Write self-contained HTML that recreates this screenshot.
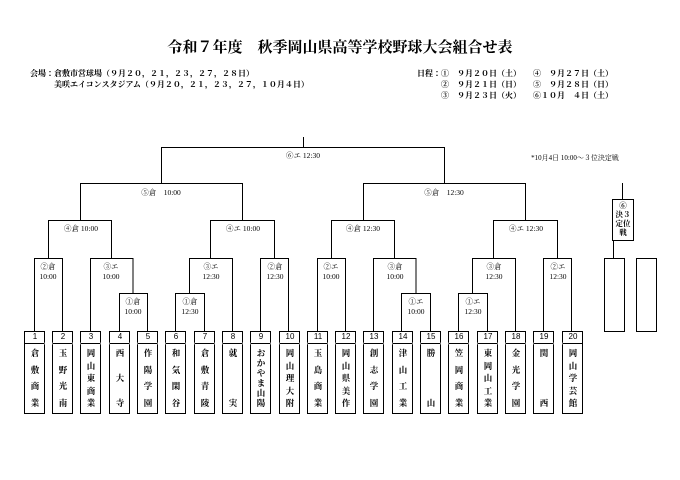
<!DOCTYPE html>
<html><head><meta charset="utf-8"><style>
body{margin:0;background:#fff;}
#p{position:relative;width:680px;height:480px;overflow:hidden;font-family:"Liberation Serif","Noto Serif CJK JP",serif;color:#000;}
.t{position:absolute;white-space:nowrap;font-size:7.5px;line-height:10px;transform:translateX(-50%);text-align:center;}
.n{position:absolute;top:331px;width:20px;height:12px;font-size:8px;line-height:12px;text-align:center;font-family:"Liberation Sans",sans-serif;}
.nm{position:absolute;top:345px;width:20px;height:66px;display:flex;flex-direction:column;justify-content:space-between;align-items:center;font-size:8.5px;line-height:10px;font-weight:bold;padding:3px 0;box-sizing:border-box;}
.h{position:absolute;font-size:8px;line-height:11px;white-space:pre;font-weight:bold;}
</style></head><body><div id="p">
<svg width="680" height="480" style="position:absolute;left:0;top:0" stroke="#000" stroke-width="1" fill="none">
<g>
<rect x="24.5" y="331.5" width="20" height="82"/><rect x="52.5" y="331.5" width="20" height="82"/><rect x="80.5" y="331.5" width="20" height="82"/><rect x="109.5" y="331.5" width="20" height="82"/><rect x="137.5" y="331.5" width="20" height="82"/>
<rect x="165.5" y="331.5" width="20" height="82"/><rect x="194.5" y="331.5" width="20" height="82"/><rect x="222.5" y="331.5" width="20" height="82"/><rect x="250.5" y="331.5" width="20" height="82"/><rect x="279.5" y="331.5" width="20" height="82"/>
<rect x="307.5" y="331.5" width="20" height="82"/><rect x="335.5" y="331.5" width="20" height="82"/><rect x="363.5" y="331.5" width="20" height="82"/><rect x="392.5" y="331.5" width="20" height="82"/><rect x="420.5" y="331.5" width="20" height="82"/>
<rect x="448.5" y="331.5" width="20" height="82"/><rect x="477.5" y="331.5" width="20" height="82"/><rect x="505.5" y="331.5" width="20" height="82"/><rect x="533.5" y="331.5" width="20" height="82"/><rect x="562.5" y="331.5" width="20" height="82"/>
<path d="M24 343.5H583"/>
<path d="M44.5 343.5h8M72.5 343.5h8M100.5 343.5h9M129.5 343.5h8M157.5 343.5h8M185.5 343.5h9M214.5 343.5h8M242.5 343.5h8M270.5 343.5h9M299.5 343.5h8M327.5 343.5h8M355.5 343.5h8M383.5 343.5h9M412.5 343.5h8M440.5 343.5h8M468.5 343.5h9M497.5 343.5h8M525.5 343.5h8M553.5 343.5h9" stroke="#fff" stroke-width="2"/>
</g>
<path d="M34.5 331V258.5H62.5V331M90.5 331V258.5H133V293.5M119.5 331V293.5H147.5V331"/>
<path d="M175.5 331V293.5H204.5V331M189.5 293.5V258.5H232.5V331M260.5 331V258.5H288.5V331"/>
<path d="M317.5 331V258.5H345.5V331M373.5 331V258.5H416V293.5M401.5 331V293.5H430.5V331"/>
<path d="M458.5 331V293.5H487.5V331M472.5 293.5V258.5H515.5V331M543.5 331V258.5H571.5V331"/>
<path d="M48.5 258V220.5H111.5V258M210.5 258V220.5H274.5V258M331.5 258V220.5H394.5V258M493.5 258V220.5H557.5V258"/>
<path d="M80.5 220V183.5H242.5V220M363.5 220V183.5H525.5V220"/>
<path d="M161.5 183V147.5H444.5V183M303.5 147V137"/>
<path d="M622.5 183V199M613.5 240V258"/>
<rect x="612.5" y="199.5" width="21" height="41"/>
<rect x="604.5" y="258.5" width="20" height="73"/>
<rect x="636.5" y="258.5" width="20" height="73"/>
</svg>
<div style="position:absolute;left:0;width:680px;top:36px;text-align:center;font-size:15px;font-weight:bold;">令和７年度　秋季岡山県高等学校野球大会組合せ表</div>
<div class="h" style="left:30px;top:68px;">会場：倉敷市営球場（９月２０，２１，２３，２７，２８日）
　　　美咲エイコンスタジアム（９月２０，２１，２３，２７，１０月４日）</div>
<div class="h" style="left:417px;top:68px;">日程：①　９月２０日（土）
　　　②　９月２１日（日）
　　　③　９月２３日（火）</div>
<div class="h" style="left:533px;top:68px;">④　９月２７日（土）
⑤　９月２８日（日）
⑥１０月　４日（土）</div>
<div class="t" style="left:575px;top:153px;font-size:7px;">*10月4日 10:00～３位決定戦</div>
<div class="t" style="left:303px;top:151px;">⑥エ 12:30</div>
<div class="t" style="left:161px;top:188px;">⑤倉　10:00</div>
<div class="t" style="left:444px;top:188px;">⑤倉　12:30</div>
<div class="t" style="left:81px;top:224px;">④倉 10:00</div>
<div class="t" style="left:243px;top:224px;">④エ 10:00</div>
<div class="t" style="left:363px;top:224px;">④倉 12:30</div>
<div class="t" style="left:526px;top:224px;">④エ 12:30</div>
<div class="t" style="left:48px;top:262px;">②倉<br>10:00</div>
<div class="t" style="left:111px;top:262px;">③エ<br>10:00</div>
<div class="t" style="left:211px;top:262px;">③エ<br>12:30</div>
<div class="t" style="left:275px;top:262px;">②倉<br>12:30</div>
<div class="t" style="left:331px;top:262px;">②エ<br>10:00</div>
<div class="t" style="left:395px;top:262px;">③倉<br>10:00</div>
<div class="t" style="left:494px;top:262px;">③倉<br>12:30</div>
<div class="t" style="left:558px;top:262px;">②エ<br>12:30</div>
<div class="t" style="left:133px;top:297px;">①倉<br>10:00</div>
<div class="t" style="left:190px;top:297px;">①倉<br>12:30</div>
<div class="t" style="left:416px;top:297px;">①エ<br>10:00</div>
<div class="t" style="left:473px;top:297px;">①エ<br>12:30</div>
<div class="t" style="left:623px;top:201px;font-size:7.5px;line-height:9px;font-weight:bold;">⑥<br>決３<br>定位<br>戦</div>
<div class="n" style="left:25px">1</div><div class="n" style="left:53px">2</div><div class="n" style="left:81px">3</div><div class="n" style="left:110px">4</div><div class="n" style="left:138px">5</div>
<div class="n" style="left:166px">6</div><div class="n" style="left:195px">7</div><div class="n" style="left:223px">8</div><div class="n" style="left:251px">9</div><div class="n" style="left:280px">10</div>
<div class="n" style="left:308px">11</div><div class="n" style="left:336px">12</div><div class="n" style="left:364px">13</div><div class="n" style="left:393px">14</div><div class="n" style="left:421px">15</div>
<div class="n" style="left:449px">16</div><div class="n" style="left:478px">17</div><div class="n" style="left:506px">18</div><div class="n" style="left:534px">19</div><div class="n" style="left:563px">20</div>
<div class="nm" style="left:25px"><span>倉</span><span>敷</span><span>商</span><span>業</span></div>
<div class="nm" style="left:53px"><span>玉</span><span>野</span><span>光</span><span>南</span></div>
<div class="nm" style="left:81px"><span>岡</span><span>山</span><span>東</span><span>商</span><span>業</span></div>
<div class="nm" style="left:110px"><span>西</span><span>大</span><span>寺</span></div>
<div class="nm" style="left:138px"><span>作</span><span>陽</span><span>学</span><span>園</span></div>
<div class="nm" style="left:166px"><span>和</span><span>気</span><span>閑</span><span>谷</span></div>
<div class="nm" style="left:195px"><span>倉</span><span>敷</span><span>青</span><span>陵</span></div>
<div class="nm" style="left:223px"><span>就</span><span>実</span></div>
<div class="nm" style="left:251px"><span>お</span><span>か</span><span>や</span><span>ま</span><span>山</span><span>陽</span></div>
<div class="nm" style="left:280px"><span>岡</span><span>山</span><span>理</span><span>大</span><span>附</span></div>
<div class="nm" style="left:308px"><span>玉</span><span>島</span><span>商</span><span>業</span></div>
<div class="nm" style="left:336px"><span>岡</span><span>山</span><span>県</span><span>美</span><span>作</span></div>
<div class="nm" style="left:364px"><span>創</span><span>志</span><span>学</span><span>園</span></div>
<div class="nm" style="left:393px"><span>津</span><span>山</span><span>工</span><span>業</span></div>
<div class="nm" style="left:421px"><span>勝</span><span>山</span></div>
<div class="nm" style="left:449px"><span>笠</span><span>岡</span><span>商</span><span>業</span></div>
<div class="nm" style="left:478px"><span>東</span><span>岡</span><span>山</span><span>工</span><span>業</span></div>
<div class="nm" style="left:506px"><span>金</span><span>光</span><span>学</span><span>園</span></div>
<div class="nm" style="left:534px"><span>関</span><span>西</span></div>
<div class="nm" style="left:563px"><span>岡</span><span>山</span><span>学</span><span>芸</span><span>館</span></div>
</div></body></html>
